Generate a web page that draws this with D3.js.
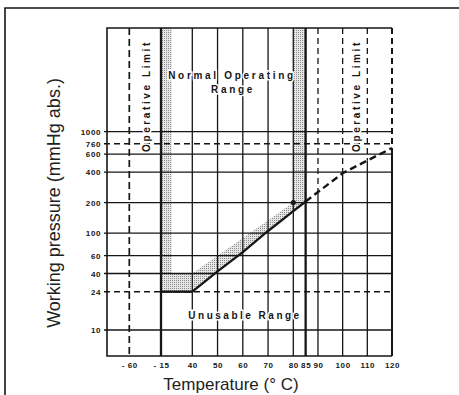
<!DOCTYPE html>
<html>
<head>
<meta charset="utf-8">
<script src="https://cdn.jsdelivr.net/npm/d3@7"></script>
<style>
  body { margin: 0; background: #fff; }
  svg { display: block; font-family: "Liberation Sans", Arial, Helvetica, sans-serif; }
</style>
</head>
<body>
<div id="chart"></div>
<script>
// temperature ticks (deg C) and the labels as printed
var xTicks = [-60, -15, 40, 50, 60, 70, 80, 85, 90, 100, 110, 120];
var xTickLabels = ["- 60", "- 15", "40", "50", "60", "70", "80", "85", "90", "100", "110", "120"];
// pressure ticks (mmHg abs.)
var yTicks = [10, 24, 40, 60, 100, 200, 400, 600, 760, 1000];
var yTickLabels = ["10", "24", "40", "60", "100", "200", "400", "600", "760", "1000"];

var dashedX = [-60];
var thickX = [-15, 85];
var limitX = [90, 100, 110, 120];
var dashedY = [24, 760];

// working pressure curve
var floorLine = [[-15, 24], [40, 24]];
var usableLine = [[40, 24], [50, 42], [60, 65], [70, 105], [80, 165], [85, 205]];
var extrapolated = [[85, 205], [100, 390], [110, 520], [120, 690]];
// shaded normal operating range
var bandUpper = [[40, 40], [80, 200]];
var leftBand = [-15, 4];
var rightBand = [80, 85];
var marker = [80, 200];

var width = 459, height = 395;
var ink = "#161616";

var svg = d3.select("#chart").append("svg")
    .attr("width", width)
    .attr("height", height);

var x = d3.scaleLinear()
    .domain([-92, -60, -15, 40, 80, 120])
    .range([107, 129.3, 161, 192.3, 293.3, 392]);

var y = d3.scaleLog()
    .domain([5.5, 10, 24, 40, 1000, 10500])
    .range([356, 330, 291.7, 273.5, 131.7, 28]);

var x0 = x(-92), x1 = x(120), yTop = 10500, yBot = 5.5;
var y0 = y(yTop), y1 = y(yBot);

// stipple pattern
var pat = svg.append("defs").append("pattern")
    .attr("id", "stipple")
    .attr("patternUnits", "userSpaceOnUse")
    .attr("width", 2).attr("height", 2);
pat.append("rect").attr("width", 2).attr("height", 2).attr("fill", "#e6e6e6");
pat.append("rect").attr("width", 1).attr("height", 1).attr("fill", "#8c8c8c");

// outer frame
svg.append("path")
    .attr("d", "M5," + height + "V8H" + width)
    .attr("fill", "none").attr("stroke", ink).attr("stroke-width", 1.6);

// shaded region
var shade = [[leftBand[0], yTop]].concat(floorLine, usableLine.slice(1),
    [[rightBand[1], yTop], [rightBand[0], yTop]],
    bandUpper.slice().reverse(),
    [[leftBand[1], bandUpper[0][1]], [leftBand[1], yTop]]);

svg.append("path")
    .attr("d", d3.line().x(function(d) { return x(d[0]); }).y(function(d) { return y(d[1]); })(shade) + "Z")
    .attr("fill", "url(#stipple)");

// y of the dashed extrapolation at a given temperature, in pixels
function diagY(t) {
  for (var i = 1; i < extrapolated.length; i++) {
    var a = extrapolated[i - 1], b = extrapolated[i];
    if (t <= b[0]) {
      var k = (x(t) - x(a[0])) / (x(b[0]) - x(a[0]));
      return y(a[1]) + k * (y(b[1]) - y(a[1]));
    }
  }
  return y(extrapolated[extrapolated.length - 1][1]);
}

var grid = svg.append("g").attr("stroke", ink).attr("fill", "none");

// horizontal grid
yTicks.forEach(function(v) {
  var isDash = dashedY.indexOf(v) >= 0;
  grid.append("line")
      .attr("x1", x0 - 3).attr("x2", x1)
      .attr("y1", y(v)).attr("y2", y(v))
      .attr("stroke-width", isDash ? 1.4 : 1.3)
      .attr("stroke-dasharray", isDash ? "6,4" : null);
});

// vertical grid
xTicks.forEach(function(t) {
  var px = x(t);
  if (dashedX.indexOf(t) >= 0) {
    grid.append("line").attr("x1", px).attr("x2", px).attr("y1", y0).attr("y2", y1)
        .attr("stroke-width", 1.7).attr("stroke-dasharray", "7,4");
  } else if (limitX.indexOf(t) >= 0) {
    var sw = t === 120 ? 2 : 1.3;
    grid.append("line").attr("x1", px).attr("x2", px).attr("y1", y0).attr("y2", diagY(t))
        .attr("stroke-width", sw).attr("stroke-dasharray", "6,4");
    grid.append("line").attr("x1", px).attr("x2", px).attr("y1", diagY(t)).attr("y2", y1)
        .attr("stroke-width", sw);
  } else {
    grid.append("line").attr("x1", px).attr("x2", px).attr("y1", y0).attr("y2", y1)
        .attr("stroke-width", thickX.indexOf(t) >= 0 ? 2.3 : 1.3);
  }
});

// plot border (right side is the 120 line)
grid.append("path")
    .attr("d", "M" + x1 + "," + y1 + "H" + x0 + "V" + y0 + "H" + x1)
    .attr("stroke-width", 1.6);

// labels inside the plot, white halo
function label(txt, tx, ty, rot, ls) {
  svg.append("text")
      .attr("transform", "translate(" + tx + "," + ty + ")" + (rot ? " rotate(-90)" : ""))
      .attr("text-anchor", "middle")
      .attr("font-size", 10)
      .attr("font-weight", "bold")
      .attr("letter-spacing", ls)
      .attr("fill", ink)
      .attr("stroke", "#fff").attr("stroke-width", 3)
      .attr("paint-order", "stroke")
      .text(txt);
}
label("Operative Limit", 150, 96, true, 2.6);
label("Operative Limit", 360, 96, true, 2.6);
label("Normal Operating", 232, 78.5, false, 2.7);
label("Range", 233, 92.5, false, 2.7);
label("Unusable Range", 245, 318.5, false, 2.5);

// curve
var line = d3.line().x(function(d) { return x(d[0]); }).y(function(d) { return y(d[1]); });

svg.append("path").attr("d", line(floorLine))
    .attr("fill", "none").attr("stroke", ink).attr("stroke-width", 2.4);
svg.append("path").attr("d", line(usableLine))
    .attr("fill", "none").attr("stroke", ink).attr("stroke-width", 2.3);
svg.append("path").attr("d", line(extrapolated))
    .attr("fill", "none").attr("stroke", ink).attr("stroke-width", 2.4)
    .attr("stroke-dasharray", "7,4");
svg.append("circle")
    .attr("cx", x(marker[0])).attr("cy", y(marker[1])).attr("r", 2.6)
    .attr("fill", ink);

// axes (labels only)
var xAxis = svg.append("g")
    .attr("transform", "translate(0," + y1 + ")")
    .call(d3.axisBottom(x).tickValues(xTicks).tickSize(0).tickPadding(6.3)
      .tickFormat(function(d, i) { return xTickLabels[i]; }));
var yAxis = svg.append("g")
    .attr("transform", "translate(" + x0 + ",0)")
    .call(d3.axisLeft(y).tickValues(yTicks).tickSize(0).tickPadding(6)
      .tickFormat(function(d, i) { return yTickLabels[i]; }));

[xAxis, yAxis].forEach(function(g) {
  g.select(".domain").remove();
  g.attr("font-family", null);
  g.selectAll("text")
      .attr("font-size", 8)
      .attr("font-weight", "bold")
      .attr("letter-spacing", 0.6)
      .attr("fill", ink);
});

// axis titles
svg.append("text")
    .attr("transform", "translate(60,203) rotate(-90)")
    .attr("text-anchor", "middle")
    .attr("font-size", 18)
    .attr("fill", "#222")
    .text("Working pressure (mmHg abs.)");

svg.append("text")
    .attr("x", 231).attr("y", 390)
    .attr("text-anchor", "middle")
    .attr("font-size", 17)
    .attr("fill", "#222")
    .text("Temperature (° C)");
</script>
</body>
</html>
